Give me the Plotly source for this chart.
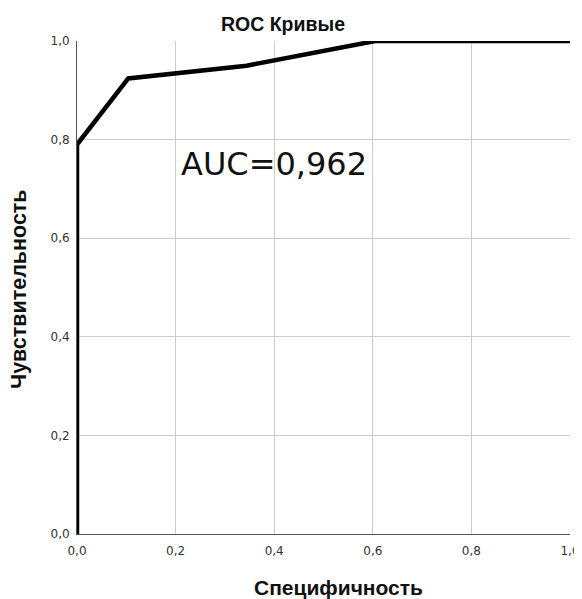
import plotly.graph_objects as go

specificity = [0.0, 0.0, 0.104, 0.344, 0.605, 1.0]
sensitivity = [0.0, 0.79, 0.924, 0.95, 1.0, 1.0]
tick_vals = [0.0, 0.2, 0.4, 0.6, 0.8, 1.0]
tick_text = ["0,0", "0,2", "0,4", "0,6", "0,8", "1,0"]
auc_label = "AUC=0,962"
auc_pos = (0.399, 0.751)
title_text = "ROC Кривые"
x_title = "Специфичность"
y_title = "Чувствительность"

W, H = 574, 591
L, R, T, B = 69, 12, 33, 65

fig = go.Figure()
fig.add_trace(go.Scatter(x=specificity, y=sensitivity, mode="lines",
                         line=dict(color="black", width=4.5), showlegend=False,
                         cliponaxis=False, hoverinfo="skip"))
fig.add_annotation(x=auc_pos[0], y=auc_pos[1], text=auc_label, showarrow=False,
                   font=dict(family="DejaVu Sans", size=32, color="#111"))
fig.add_annotation(xref="paper", yref="paper", x=0.531, y=0, yshift=-53,
                   xanchor="center", yanchor="middle", showarrow=False,
                   text="<b>" + x_title + "</b>",
                   font=dict(family="Liberation Sans", size=21, color="#111"))
fig.add_annotation(xref="paper", yref="paper", x=0, y=0.497, xshift=-58,
                   xanchor="center", yanchor="middle", showarrow=False, textangle=-90,
                   text="<b>" + y_title + "</b>",
                   font=dict(family="Liberation Sans", size=21.5, color="#111"))

fig.update_layout(
    width=W, height=H,
    margin=dict(l=L, r=R, t=T, b=B),
    paper_bgcolor="white", plot_bgcolor="white",
    separators=", ",
    title=dict(text="<b>" + title_text + "</b>", xref="container", x=275 / W, xanchor="center",
               yref="container", y=1 - 16 / H, yanchor="middle",
               font=dict(family="Liberation Sans", size=19.5, color="#111")),
    font=dict(family="DejaVu Sans", color="#333"),
)
fig.update_xaxes(range=[0, 1], tickvals=tick_vals, ticktext=tick_text,
                 showgrid=True, gridcolor="#cccccc", gridwidth=1,
                 showline=True, linecolor="#555", linewidth=1, zeroline=False,
                 tickfont=dict(family="DejaVu Sans", size=12, color="#333"), ticks="",
                 ticklabelstandoff=6, ticklabeloverflow="allow",
                 automargin=False, fixedrange=True)
fig.update_yaxes(range=[0, 1], tickvals=tick_vals, ticktext=tick_text,
                 showgrid=True, gridcolor="#cccccc", gridwidth=1,
                 showline=True, linecolor="#555", linewidth=1, zeroline=False,
                 tickfont=dict(family="DejaVu Sans", size=12, color="#333"), ticks="",
                 ticklabelstandoff=4, ticklabeloverflow="allow",
                 automargin=False, fixedrange=True)

fig.write_html("out.html", config={"displayModeBar": False})
